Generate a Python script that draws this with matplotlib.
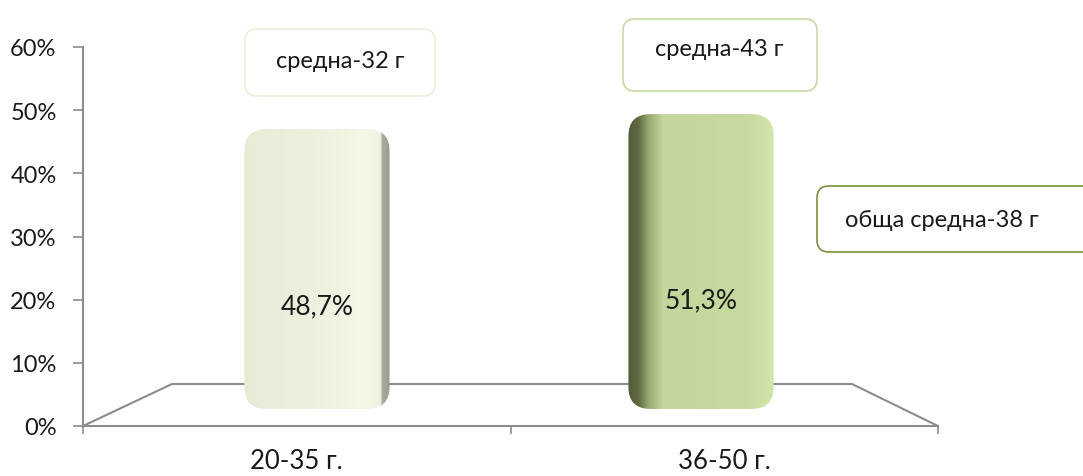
import matplotlib
matplotlib.use("Agg")
import matplotlib.pyplot as plt
import numpy as np
from matplotlib.patches import FancyBboxPatch
from matplotlib.colors import to_rgb

categories = ["20-35 г.", "36-50 г."]
shares = [48.7, 51.3]
share_labels = ["48,7%", "51,3%"]
mean_notes = ["средна-32 г", "средна-43 г"]
overall_note = "обща средна-38 г"
yticks = [0, 10, 20, 30, 40, 50, 60]

plt.rcParams["font.family"] = ["Lato", "DejaVu Sans"]
TXT = "#1a1a1a"
GRID = "#8c8c8c"

W, H = 1083, 477
fig = plt.figure(figsize=(W / 100, H / 100), dpi=100)
fig.patch.set_facecolor("white")

# main value axis (floor + ticks)
pos = [83 / W, 1 - 427 / H, (938 - 83) / W, (427 - 48) / H]
ax = fig.add_axes(pos)
ax.set_xlim(0, 2)
ax.set_ylim(0, 60)
ax.set_yticks(yticks)
ax.set_yticklabels([f"{v}%" for v in yticks], fontsize=17, color=TXT)
ax.set_xticks([0, 1, 2])
ax.set_xticklabels([])
ax.tick_params(axis="y", direction="out", length=7, color=GRID, width=1.2, pad=12)
ax.tick_params(axis="x", direction="out", length=6, color=GRID, width=1.2)
for s in ["top", "right"]:
    ax.spines[s].set_visible(False)
ax.spines["left"].set_color(GRID)
ax.spines["left"].set_linewidth(1.5)
ax.spines["bottom"].set_color(GRID)
ax.spines["bottom"].set_linewidth(1.5)
ax.set_facecolor("none")
for i, c in enumerate(categories):
    ax.text(i + 0.5, -0.092, c, transform=ax.get_xaxis_transform(),
            ha="center", va="center", fontsize=18.5, color=TXT)

# floor in perspective
bx0, bx1, by = (172 - 83) / 855, (852 - 83) / 855, (427 - 385) / 379
ax.plot([0, bx0, bx1, 1], [0, by, by, 0], transform=ax.transAxes,
        color=GRID, lw=1.5, clip_on=False)

# bars drawn at their depth in the floor
ax2 = fig.add_axes(pos)
ax2.set_xlim(-0.109, 2.117)
ax2.set_ylim(-2.97, 62.97)
ax2.axis("off")


def grad(stops, n=300):
    xs = np.linspace(0, 1, n)
    pts = [p for p, _ in stops]
    cols = np.array([to_rgb(c) for _, c in stops])
    return np.stack([np.interp(xs, pts, cols[:, k]) for k in range(3)], axis=-1)[None, :, :]


bar_stops = [
    [(0, "#e6ecd6"), (0.45, "#ecf1de"), (0.82, "#f3f8e6"), (0.935, "#eef2e2"), (0.95, "#a9ad9d"), (1, "#979c8c")],
    [(0, "#535b3b"), (0.07, "#5f6a43"), (0.14, "#98aa70"), (0.24, "#c3d69b"), (0.8, "#c6d99e"), (1, "#d2e5aa")],
]

bars = ax2.bar([0.5, 1.5], shares, width=0.378, color="none")
ratio = (62.97 + 2.97) / 379 * 384
for b, stops, lab, v in zip(bars, bar_stops, share_labels, shares):
    x0, w, h = b.get_x(), b.get_width(), b.get_height()
    r = 22 / 384
    patch = FancyBboxPatch((x0, 0), w, h, boxstyle=f"round,pad=0,rounding_size={r}",
                           mutation_aspect=ratio, fc="none", ec="none")
    ax2.add_patch(patch)
    im = ax2.imshow(grad(stops), extent=[x0, x0 + w, 0, h], aspect="auto",
                    interpolation="bilinear", zorder=2)
    im.set_clip_path(patch)
    ax2.text(b.get_x() + w / 2, v * 0.37, lab, ha="center", va="center",
             fontsize=19, color=TXT, zorder=4)
ax2.set_xlim(-0.109, 2.117)
ax2.set_ylim(-2.97, 62.97)

# note boxes in pixel space
ov = fig.add_axes([0, 0, 1, 1])
ov.set_xlim(0, W)
ov.set_ylim(H, 0)
ov.axis("off")
ov.set_facecolor("none")
boxes = [
    (245, 30, 190, 67, "#eeeedd", 340, 62, mean_notes[0]),
    (623, 20, 194, 72, "#c6d9a4", 719, 50, mean_notes[1]),
    (817, 187, 290, 66, "#76923c", 942, 221, overall_note),
]
for x, y, w, h, ec, tx, ty, t in boxes:
    ov.add_patch(FancyBboxPatch((x, y), w, h, boxstyle="round,pad=0,rounding_size=12",
                                fc="white", ec=ec, lw=1.2, clip_on=False))
    ov.text(tx, ty, t, ha="center", va="center", fontsize=17, color=TXT)

fig.savefig("out.png", dpi=100)
